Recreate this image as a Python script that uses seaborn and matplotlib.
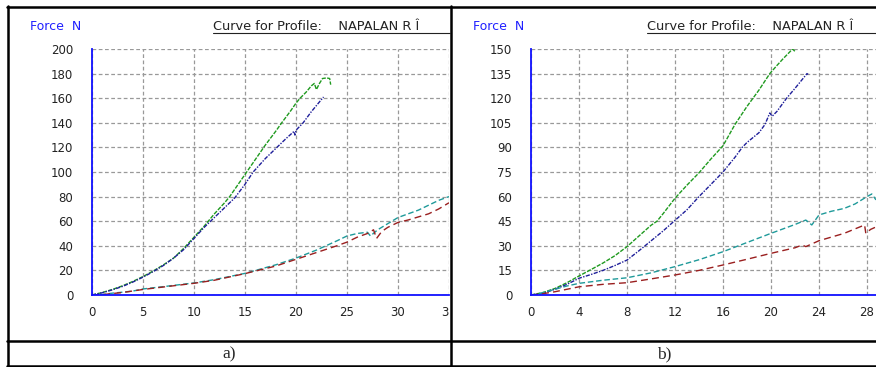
import numpy as np
import pandas as pd
import seaborn as sns
import matplotlib.pyplot as plt
from matplotlib.transforms import Bbox

sns.set_style("white")
plt.rcParams['font.family'] = ['DejaVu Sans']

# ---- panel a) : force (N) vs displacement ----
a_green_x = [0, 1, 2, 3, 4, 5, 6, 7, 8, 9, 10, 11, 12, 13, 13.5, 14, 15, 16, 17, 18, 18.6, 19.5, 20, 20.4,
             21, 21.5, 21.8, 22, 22.3, 22.6, 23, 23.3, 23.4]
a_green_y = [0, 2, 4.5, 7.5, 11, 15, 19.5, 24.5, 30, 38, 47, 56, 66, 75, 80, 86, 98, 110, 122, 133, 140, 150, 156, 160,
             165, 170, 172, 167, 172, 176, 176.5, 176, 171]
a_blue_x = [0, 1, 2, 3, 4, 5, 6, 7, 8, 9, 10, 11, 12, 13, 14, 15, 15.8, 17, 18, 19, 19.8, 19.9, 20, 20.7,
            21.5, 22, 22.7]
a_blue_y = [0, 1.8, 4.2, 7, 10.5, 14.5, 19, 24, 30, 37, 46, 55, 63, 71, 79, 90, 100, 111, 119, 127, 133, 130, 134, 140,
            149, 154, 161]
a_cyan_x = [0, 1, 1.5, 2, 3, 4, 5, 7, 10, 12, 15, 18, 20, 22, 24, 25, 26, 27, 27.3, 28, 29, 30, 31, 32, 33, 34, 35]
a_cyan_y = [0, 0.3, 1, 1.5, 2.3, 3.2, 4.9, 6.8, 9.8, 12.5, 17.6, 24.5, 30, 36.5, 44, 48, 50, 51, 48, 53, 58, 63,
            66, 69, 73, 77, 80]
a_red_x = [0, 1, 2, 3, 5, 7, 10, 12, 15, 18, 20, 22, 24, 25, 26, 27, 27.6, 27.9, 28.4, 29, 30, 31, 32, 33, 34, 35]
a_red_y = [0, 0.3, 1.2, 2, 4.5, 6.5, 9.5, 12, 17.4, 23.5, 29, 34.5, 40, 43, 47, 50, 53, 46, 51.6, 55, 59, 61,
           63.5, 66, 70, 75]
a_xticks = [0, 5, 10, 15, 20, 25, 30, 35]
a_yticks = [0, 20, 40, 60, 80, 100, 120, 140, 160, 180, 200]

# ---- panel b) ----
b_green_x = [0, 1, 2, 3, 4, 5, 6, 7, 8, 9, 10, 10.5, 11, 12, 13, 14, 15, 16, 17, 18, 18.5, 19, 19.9, 20.5,
             21, 21.8, 22]
b_green_y = [0, 1.5, 4, 7.5, 11.6, 15.5, 19.5, 24, 29.5, 36, 42.5, 45, 49.5, 59, 67, 74.5, 83, 91, 104, 115, 120,
             125, 135, 140, 144, 150, 148.5]
b_blue_x = [0, 1, 2, 3, 4, 5, 6, 7, 8, 9, 10, 11, 12, 13, 14, 15, 16, 17, 17.6, 18, 19, 19.5, 19.9, 20.1,
            20.5, 21.3, 22, 23, 23.1]
b_blue_y = [0, 1, 3.5, 6.5, 10.2, 12.5, 15, 18, 21.3, 27, 33, 39, 45.5, 52, 60, 67.5, 75, 84, 90, 93, 99, 104,
            111, 109, 112, 120, 126, 135, 134.5]
b_cyan_x = [0, 0.5, 1, 2, 3, 4, 6, 8, 10, 12, 14, 16, 18, 20, 22, 22.9, 23.4, 24, 25, 26.1, 27, 28, 28.4, 28.75]
b_cyan_y = [0, 0.5, 1.5, 3.5, 5.5, 7.1, 9, 10.5, 13.5, 17.3, 21.5, 26.4, 32, 37.6, 43, 45.7, 42.7, 48.8, 51,
            52.8, 55.5, 60, 61.6, 58]
b_red_x = [0, 1, 2, 3, 4, 6, 8, 10, 12, 14, 16, 18, 20, 22, 22.6, 22.9, 24, 26.1, 27.8, 27.9, 28.3, 28.75]
b_red_y = [0, 0.8, 2, 3.5, 5, 6.5, 7.5, 9.8, 12.2, 15, 18.3, 21.8, 25.4, 28.8, 30.5, 29.5, 33.1, 37.6, 42.7,
           37.6, 40, 41.5]
b_xticks = [0, 4, 8, 12, 16, 20, 24, 28]
b_yticks = [0, 15, 30, 45, 60, 75, 90, 105, 120, 135, 150]

W, H = 876, 367
fig = plt.figure(figsize=(W / 100, H / 100), dpi=100)


def px_axes(x0, y0, x1, y1, **kw):
    return fig.add_axes([x0 / W, 1 - y1 / H, (x1 - x0) / W, (y1 - y0) / H], **kw)


# background with the table borders
bg = px_axes(0, 0, W, H)
bg.set_xlim(0, W)
bg.set_ylim(H, 0)
bg.axis("off")
for y in [7, 341, 366]:
    bg.plot([7, W], [y, y], color="black", lw=1.8)
for x in [8, 450.5]:
    bg.plot([x, x], [6, 367], color="black", lw=1.8)
bg.text(229, 354, "a)", ha="center", va="center", fontsize=12.5, family="Liberation Serif")
bg.text(664, 354, "b)", ha="center", va="center", fontsize=12.5, family="Liberation Serif")

# header texts of each cell
for (fx, tx, lx1) in [(30, 213, 449.5), (473, 647, W)]:
    bg.text(fx, 27, "Force  N", color="#2020ff", fontsize=9, va="center")
    bg.text(tx, 26.5, "Curve for Profile:    NAPALAN R Î", color="#222222", fontsize=9.3, va="center")
    bg.plot([tx, lx1], [33, 33], color="#222222", lw=0.8)

panels = [
    (92, 449, 35, 200, a_xticks, a_yticks,
     [(a_green_x, a_green_y), (a_blue_x, a_blue_y), (a_cyan_x, a_cyan_y), (a_red_x, a_red_y)]),
    (531, 876, 28.75, 150, b_xticks, b_yticks,
     [(b_green_x, b_green_y), (b_blue_x, b_blue_y), (b_cyan_x, b_cyan_y), (b_red_x, b_red_y)]),
]
colors = ["#1f9a1f", "#1f1f9a", "#1f9a9a", "#9a1f1f"]
dashes = [(3, 1), (3, 1, 1, 1), (4, 2), (5, 3)]

for (x0, x1, xmax, ymax, xt, yt, series) in panels:
    ax = px_axes(x0, 49, x1, 295)
    ax.patch.set_alpha(0)
    for (xs, ys), c, d in zip(series, colors, dashes):
        df = pd.DataFrame({"x": xs, "y": ys})
        sns.lineplot(data=df, x="x", y="y", ax=ax, color=c, lw=1.0, sort=False,
                     estimator=None, dashes=False).lines[-1].set_dashes(d)
    ax.set_xlim(0, xmax)
    ax.set_ylim(0, ymax)
    ax.set_xticks(xt)
    ax.set_yticks(yt)
    ax.set_xticklabels([str(v) for v in xt])
    ax.set_yticklabels([str(v) for v in yt])
    ax.set_xlabel("")
    ax.set_ylabel("")
    ax.grid(True, color="#999999", lw=0.9, linestyle=(0, (3, 2)))
    ax.set_axisbelow(True)
    for s in ["top", "right"]:
        ax.spines[s].set_visible(False)
    for s in ["left", "bottom"]:
        ax.spines[s].set_color("#1010ff")
        ax.spines[s].set_linewidth(1.3)
    ax.tick_params(axis="x", length=0, pad=8, labelsize=8.5, labelcolor="#222222")
    ax.tick_params(axis="y", length=2.5, width=1, color="#1010ff", pad=11, labelsize=8.5,
                   labelcolor="#222222")
    # clip tick labels at the table cell border (right end of panel)
    for lab in ax.get_xticklabels():
        lab.set_clip_on(True)
        lab.set_clip_box(Bbox([[x0 - 60, 0], [x1, H]]))

fig.savefig("out.png", dpi=100)
